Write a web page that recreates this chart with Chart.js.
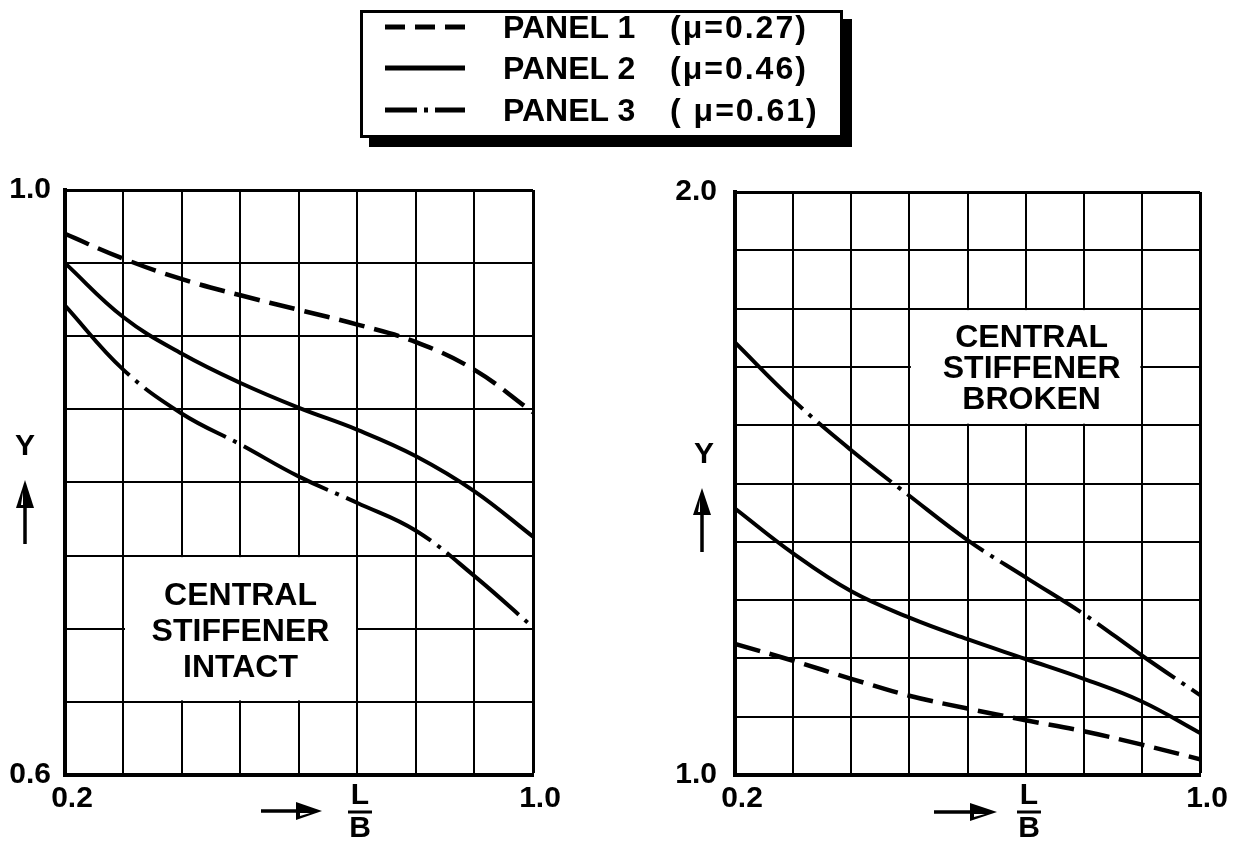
<!DOCTYPE html>
<html>
<head>
<meta charset="utf-8">
<script src="https://cdn.jsdelivr.net/npm/chart.js@4.4.1/dist/chart.umd.min.js"></script>
<style>
  html, body { margin: 0; padding: 0; background: #fff; }
  #wrap { position: relative; width: 1237px; height: 842px; overflow: hidden; background: #fff; }
  #cl { position: absolute; left: 0; top: 0; }
  #cr { position: absolute; left: 600px; top: 0; }
  #legend {
    position: absolute; left: 360px; top: 10px; width: 477px; height: 122px;
    border: 3px solid #000; background: #fff; box-shadow: 9px 9px 0 #000;
    font-family: 'Liberation Sans', Arial, sans-serif; font-weight: bold; font-size: 32px; color: #000;
  }
  #legend svg { position: absolute; left: 0; top: 0; }
  .lbl { position: absolute; left: 140px; line-height: 32px; white-space: pre; }
  .mu { position: absolute; left: 307px; line-height: 32px; white-space: pre; letter-spacing: 2px; }
</style>
</head>
<body>
<div id="wrap">
  <canvas id="cl" width="600" height="842"></canvas>
  <canvas id="cr" width="637" height="842"></canvas>
  <div id="legend"></div>
</div>
<script>
// ---------------- DATA ----------------
const xValues = [0.2, 0.3, 0.4, 0.5, 0.6, 0.7, 0.8, 0.9, 1.0];

// Left chart: central stiffener intact
const intactPanel1 = [0.970, 0.953, 0.939, 0.928, 0.918, 0.908, 0.896, 0.877, 0.848];
const intactPanel2 = [0.950, 0.913, 0.888, 0.868, 0.851, 0.836, 0.818, 0.794, 0.763];
const intactPanel3 = [0.921, 0.877, 0.847, 0.826, 0.804, 0.786, 0.767, 0.736, 0.701];

// Right chart: central stiffener broken
const brokenPanel1 = [1.225, 1.196, 1.165, 1.136, 1.114, 1.094, 1.075, 1.052, 1.027];
const brokenPanel2 = [1.457, 1.380, 1.315, 1.270, 1.233, 1.199, 1.165, 1.126, 1.072];
const brokenPanel3 = [1.742, 1.643, 1.557, 1.479, 1.403, 1.339, 1.276, 1.205, 1.137];

const xTickLabels = [0.2, 1.0];
const intactYTickLabels = [0.6, 1.0];
const brokenYTickLabels = [1.0, 2.0];

const legendNames = ['PANEL 1', 'PANEL 2', 'PANEL 3'];
const legendMu = ['(μ=0.27)', '(μ=0.46)', '( μ=0.61)'];

const intactNote = ['CENTRAL', 'STIFFENER', 'INTACT'];
const brokenNote = ['CENTRAL', 'STIFFENER', 'BROKEN'];

// ---------------- STYLES ----------------
const FONT = "'Liberation Sans', Arial, sans-serif";
const seriesStyles = [
  { width: 4.5, dash: [26, 10] },
  { width: 4, dash: [] },
  { width: 4, dash: [95, 8, 4, 8] }
];

// ---------------- LEGEND (HTML) ----------------
(function buildLegend() {
  const lg = document.getElementById('legend');
  const rowsY = [14, 55, 97];
  let svg = '<svg width="477" height="122" xmlns="http://www.w3.org/2000/svg">';
  const dashes = ['20 10', '', '32 7 4 7 40'];
  rowsY.forEach((y, i) => {
    svg += '<line x1="22" x2="102" y1="' + y + '" y2="' + y + '" stroke="#000" stroke-width="5"' +
      (dashes[i] ? ' stroke-dasharray="' + dashes[i] + '"' : '') + '/>';
  });
  svg += '</svg>';
  let html = svg;
  rowsY.forEach((y, i) => {
    html += '<div class="lbl" style="top:' + (y - 15.6) + 'px">' + legendNames[i] + '</div>';
    html += '<div class="mu" style="top:' + (y - 15.6) + 'px">' + legendMu[i] + '</div>';
  });
  lg.innerHTML = html;
})();

// ---------------- PLUGIN ----------------
const decor = {
  id: 'decor',
  beforeDatasetsDraw(chart, args, o) {
    const ctx = chart.ctx, xs = chart.scales.x, ys = chart.scales.y;
    const bx0 = xs.getPixelForValue(o.box[0]), bx1 = xs.getPixelForValue(o.box[1]);
    const by0 = ys.getPixelForValue(o.box[3]), by1 = ys.getPixelForValue(o.box[2]);
    ctx.save();
    ctx.fillStyle = '#fff';
    ctx.fillRect(bx0 + 1.5, by0 + 1.5, bx1 - bx0 - 3, by1 - by0 - 3);
    ctx.fillStyle = '#000';
    ctx.font = 'bold 32px ' + FONT;
    ctx.textAlign = 'center';
    ctx.textBaseline = 'middle';
    const cx = (bx0 + bx1) / 2 + o.textDx, cy = (by0 + by1) / 2 + o.textDy;
    o.lines.forEach((t, i) => ctx.fillText(t, cx, cy + (i - 1) * o.lineGap));
    ctx.restore();
  },
  afterDraw(chart, args, o) {
    const ctx = chart.ctx;
    ctx.save();
    ctx.fillStyle = '#000'; ctx.strokeStyle = '#000';
    ctx.font = 'bold 30px ' + FONT;
    ctx.textAlign = 'center'; ctx.textBaseline = 'middle';
    // Y label
    ctx.fillText('Y', o.yLabel[0], o.yLabel[1]);
    // up arrow
    const ua = o.upArrow; // x, tip, base, end, hw
    ctx.lineWidth = 3.5;
    ctx.beginPath(); ctx.moveTo(ua[0], ua[2] - 2); ctx.lineTo(ua[0], ua[3]); ctx.stroke();
    ctx.beginPath(); ctx.moveTo(ua[0], ua[1]); ctx.lineTo(ua[0] + ua[4], ua[2]); ctx.lineTo(ua[0] - ua[4], ua[2]); ctx.closePath(); ctx.fill();
    ctx.fillStyle = '#fff';
    ctx.beginPath(); ctx.moveTo(ua[0] - 2, ua[1] + 12); ctx.lineTo(ua[0] - 2, ua[2] - 3); ctx.lineTo(ua[0] - ua[4] + 5, ua[2] - 3); ctx.closePath(); ctx.fill();
    ctx.fillStyle = '#000';
    // right arrow
    const xa = o.xArrow; // x0, x1, headStart, y, hh
    ctx.lineWidth = 3.5;
    ctx.beginPath(); ctx.moveTo(xa[0], xa[3]); ctx.lineTo(xa[2], xa[3]); ctx.stroke();
    ctx.beginPath(); ctx.moveTo(xa[1], xa[3]); ctx.lineTo(xa[2], xa[3] - xa[4]); ctx.lineTo(xa[2], xa[3] + xa[4]); ctx.closePath();
    ctx.fill();
    ctx.fillStyle = '#fff';
    ctx.beginPath(); ctx.moveTo(xa[2] + 4, xa[3] + 2); ctx.lineTo(xa[2] + 4, xa[3] + xa[4] - 4); ctx.lineTo(xa[1] - 12, xa[3] + 2); ctx.closePath(); ctx.fill();
    ctx.fillStyle = '#000';
    // fraction L / B
    const fr = o.frac; // x, barY
    ctx.fillText('L', fr[0], fr[1] - 16);
    ctx.fillText('B', fr[0], fr[1] + 17);
    ctx.lineWidth = 3;
    ctx.beginPath(); ctx.moveTo(fr[0] - 12, fr[1]); ctx.lineTo(fr[0] + 12, fr[1]); ctx.stroke();
    ctx.restore();
  }
};

function makeDatasets(p1, p2, p3) {
  return [p1, p2, p3].map((vals, i) => ({
    label: legendNames[i],
    data: xValues.map((x, k) => ({ x: x, y: vals[k] })),
    borderColor: '#000',
    borderWidth: seriesStyles[i].width,
    borderDash: seriesStyles[i].dash,
    borderCapStyle: 'butt',
    pointRadius: 0,
    tension: 0.4,
    fill: false
  }));
}

function labelOnly(list) {
  return function (v) {
    return list.some(t => Math.abs(t - v) < 1e-6) ? Number(v).toFixed(1) : '';
  };
}

function makeChart(canvasId, datasets, cfg) {
  const nx = 9, ny = cfg.ny;
  return new Chart(document.getElementById(canvasId), {
    type: 'line',
    data: { datasets: datasets },
    plugins: [decor],
    options: {
      responsive: false,
      animation: false,
      layout: { padding: { top: cfg.top, right: cfg.right, left: 0, bottom: 0 } },
      plugins: {
        legend: { display: false },
        tooltip: { enabled: false },
        decor: cfg.decor
      },
      scales: {
        x: {
          type: 'linear', min: 0.2, max: 1.0,
          afterFit: s => { s.height = 67; },
          ticks: {
            stepSize: 0.1, autoSkip: false, maxRotation: 0, padding: 6, labelOffset: 7,
            color: '#000', font: { family: FONT, size: 30, weight: 'bold' },
            callback: labelOnly(xTickLabels)
          },
          grid: {
            color: '#000', drawTicks: false,
            lineWidth: c => (c.index === nx - 1 ? 3 : 2)
          },
          border: { color: '#000', width: 4 }
        },
        y: {
          type: 'linear', min: cfg.ymin, max: cfg.ymax,
          afterFit: s => { s.width = cfg.yw; },
          ticks: {
            stepSize: cfg.ystep, autoSkip: false, padding: cfg.ypad,
            color: '#000', font: { family: FONT, size: 30, weight: 'bold' },
            callback: labelOnly(cfg.yLabels)
          },
          grid: {
            color: '#000', drawTicks: false,
            lineWidth: c => (c.index === ny - 1 ? 3 : 2)
          },
          border: { color: '#000', width: 4 }
        }
      }
    }
  });
}

makeChart('cl', makeDatasets(intactPanel1, intactPanel2, intactPanel3), {
  top: 190, right: 67, yw: 65, ypad: 14, ymin: 0.6, ymax: 1.0, ystep: 0.05, ny: 9,
  yLabels: intactYTickLabels,
  decor: {
    box: [0.3, 0.7, 0.65, 0.75], lines: intactNote, lineGap: 36, textDx: 0, textDy: 3,
    yLabel: [25, 447], upArrow: [25, 480, 508, 544, 9],
    xArrow: [261, 322, 296, 811, 9], frac: [360, 812]
  }
});

makeChart('cr', makeDatasets(brokenPanel1, brokenPanel2, brokenPanel3), {
  top: 192, right: 37, yw: 135, ypad: 18, ymin: 1.0, ymax: 2.0, ystep: 0.1, ny: 11,
  yLabels: brokenYTickLabels,
  decor: {
    box: [0.5, 0.9, 1.6, 1.8], lines: brokenNote, lineGap: 31, textDx: 6, textDy: 2,
    yLabel: [104, 455], upArrow: [102, 488, 515, 552, 9],
    xArrow: [334, 397, 370, 812, 9], frac: [429, 812]
  }
});
</script>
</body>
</html>
